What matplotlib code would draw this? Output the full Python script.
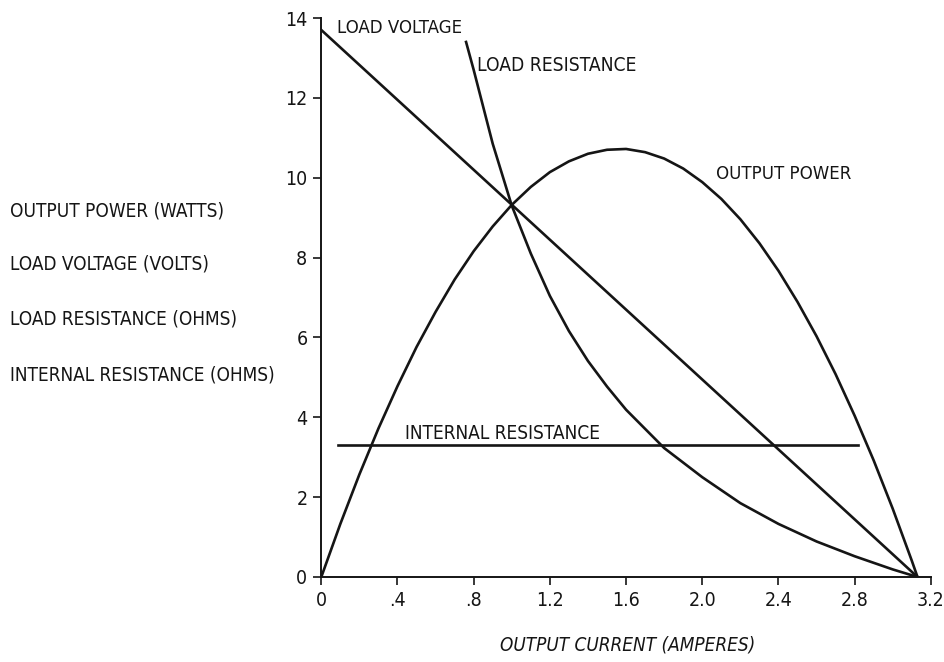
import matplotlib
matplotlib.use("Agg")
import matplotlib.pyplot as plt

plt.rcParams['font.family'] = ['Liberation Sans Narrow', 'DejaVu Sans']
plt.rcParams['font.stretch'] = 'condensed'

# output current, amperes
current = [0.0, 0.1, 0.2, 0.3, 0.4, 0.5, 0.6, 0.7, 0.8, 0.9, 1.0, 1.1, 1.2, 1.3,
           1.4, 1.5, 1.6, 1.7, 1.8, 1.9, 2.0, 2.1, 2.2, 2.3, 2.4, 2.5, 2.6, 2.7,
           2.8, 2.9, 3.0, 3.1, 3.13]
# output power, watts
power = [0.0, 1.33, 2.57, 3.72, 4.78, 5.76, 6.64, 7.45, 8.16, 8.78, 9.32, 9.77,
         10.14, 10.41, 10.60, 10.70, 10.72, 10.64, 10.48, 10.23, 9.89, 9.47, 8.96,
         8.36, 7.67, 6.89, 6.03, 5.08, 4.04, 2.92, 1.71, 0.41, 0.0]

# load voltage, volts
volt_current = [0.0, 3.13]
voltage = [13.7, 0.0]

# load resistance, ohms
res_current = [0.76, 0.8, 0.9, 1.0, 1.1, 1.2, 1.3, 1.4, 1.5, 1.6, 1.8, 2.0, 2.2,
               2.4, 2.6, 2.8, 3.0, 3.13]
load_res = [13.4, 12.7, 10.85, 9.3, 8.1, 7.04, 6.16, 5.41, 4.77, 4.19, 3.23, 2.5,
            1.85, 1.33, 0.89, 0.52, 0.19, 0.0]

# internal resistance, ohms
int_current = [0.09, 2.82]
int_res = [3.3, 3.3]

xticks = [0, 0.4, 0.8, 1.2, 1.6, 2.0, 2.4, 2.8, 3.2]
xticklabels = ['0', '.4', '.8', '1.2', '1.6', '2.0', '2.4', '2.8', '3.2']
yticks = [0, 2, 4, 6, 8, 10, 12, 14]

ylabels = ["OUTPUT POWER (WATTS)", "LOAD VOLTAGE (VOLTS)",
           "LOAD RESISTANCE (OHMS)", "INTERNAL RESISTANCE (OHMS)"]
ylabel_rows = [211, 264, 319, 375]  # pixel rows of the stacked axis titles

ink = '#151515'

fig = plt.figure(figsize=(9.45, 6.62), dpi=100)
ax = fig.add_axes([0.340, 0.1284, 0.645, 0.8444])

ax.plot(current, power, color=ink, lw=1.9)
ax.plot(volt_current, voltage, color=ink, lw=1.9)
ax.plot(res_current, load_res, color=ink, lw=1.9)
ax.plot(int_current, int_res, color=ink, lw=1.9)

ax.set_xlim(0, 3.2)
ax.set_ylim(0, 14)
ax.set_xticks(xticks)
ax.set_xticklabels(xticklabels)
ax.set_yticks(yticks)
for s in ['top', 'right']:
    ax.spines[s].set_visible(False)
for s in ['left', 'bottom']:
    ax.spines[s].set_color(ink)
    ax.spines[s].set_linewidth(1.4)
ax.tick_params(direction='out', length=6, width=1.2, colors=ink,
               labelsize=14, pad=4)

ax.text(0.08, 13.75, "LOAD VOLTAGE", fontsize=13.3, color=ink, va='center')
ax.text(0.82, 12.8, "LOAD RESISTANCE", fontsize=13.8, color=ink, va='center')
ax.text(2.07, 10.1, "OUTPUT POWER", fontsize=13.3, color=ink, va='center')
ax.text(0.44, 3.6, "INTERNAL RESISTANCE", fontsize=13.7, color=ink, va='center')

for lab, row in zip(ylabels, ylabel_rows):
    fig.text(0.011, 1 - row / 662, lab, fontsize=13.6, color=ink,
             va='center', ha='left')

fig.text(0.664, 1 - 645 / 662, "OUTPUT CURRENT (AMPERES)", fontsize=13.6,
         color=ink, ha='center', va='center', style='italic')

fig.savefig("out.png", dpi=100)
